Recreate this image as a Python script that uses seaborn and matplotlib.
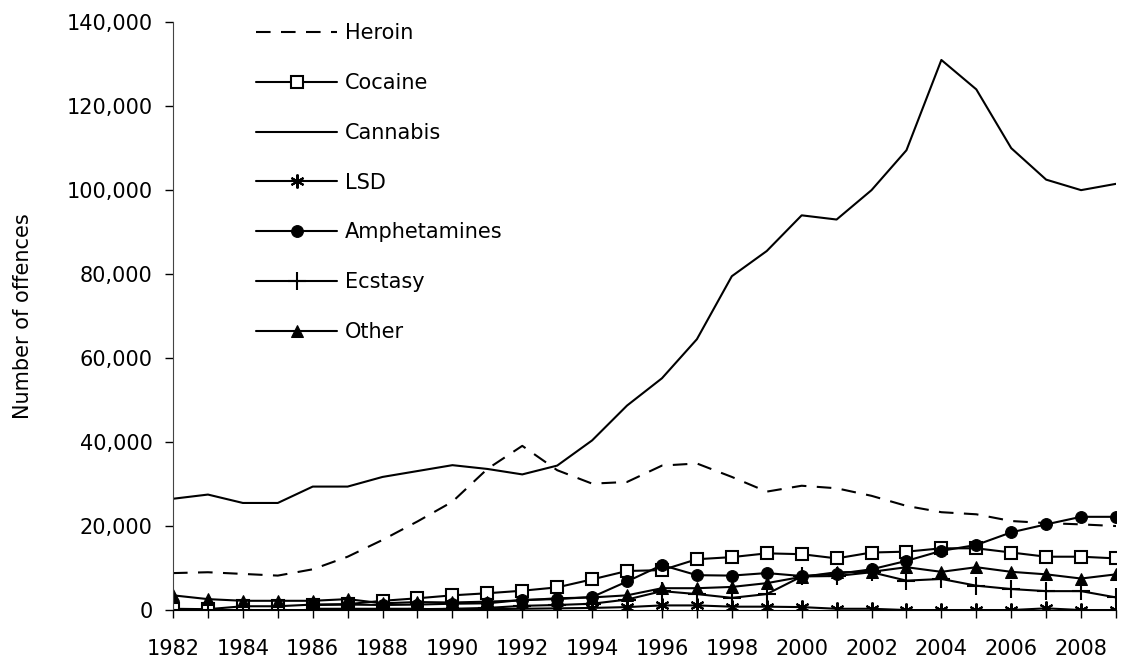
import numpy as np
import pandas as pd
import matplotlib
matplotlib.use("Agg")
import matplotlib.pyplot as plt
from matplotlib.ticker import FuncFormatter, MultipleLocator
import seaborn as sns

years = list(range(1982, 2010))

heroin = [8800, 9000, 8600, 8200, 9700, 12700, 16700, 21100, 25800, 33600,
          39100, 33300, 30100, 30500, 34400, 34900, 31700, 28200, 29600, 29000,
          27200, 24800, 23300, 22800, 21200, 20700, 20400, 20000]
cocaine = [300, 200, 900, 900, 1300, 1400, 2200, 2800, 3500, 4000,
           4600, 5400, 7300, 9300, 9500, 12100, 12600, 13500, 13300, 12300,
           13700, 13900, 14700, 14700, 13700, 12700, 12700, 12300]
cannabis = [26500, 27500, 25500, 25500, 29400, 29400, 31700, 33100, 34500, 33600,
            32300, 34400, 40400, 48700, 55200, 64500, 79500, 85500, 94000, 93000,
            100000, 109500, 131000, 124000, 110000, 102500, 100000, 101500]
lsd = [np.nan, np.nan, np.nan, np.nan, 300, 300, 300, 300, 0, 200,
       300, 400, 500, 700, 1100, 1100, 800, 800, 700, 300,
       300, 0, 0, 0, 0, 400, 0, 0]
amphetamines = [np.nan, np.nan, np.nan, np.nan, 1200, 1300, 1200, 1300, 1500, 1600,
                2400, 2600, 3100, 6800, 10700, 8300, 8200, 8800, 8100, 8600,
                9700, 11700, 14100, 15500, 18500, 20400, 22200, 22200]
ecstasy = [0, 0, 0, 0, 0, 0, 0, 200, 300, 500,
           1000, 1200, 1500, 2500, 4500, 3800, 2900, 3800, 8000, 8100,
           9000, 7000, 7400, 5800, 5000, 4500, 4500, 3000]
other = [3500, 2600, 2200, 2200, 2200, 2600, 1600, 1900, 1800, 2000,
         2300, 2800, 3000, 3500, 5200, 5200, 5500, 6400, 7900, 9000,
         9100, 10200, 9100, 10200, 9100, 8500, 7500, 8500]

series_names = ["Heroin", "Cocaine", "Cannabis", "LSD", "Amphetamines", "Ecstasy", "Other"]
series_vals = [heroin, cocaine, cannabis, lsd, amphetamines, ecstasy, other]

sns.set_style("ticks")
plt.rcParams["font.family"] = ["DejaVu Sans"]
plt.rcParams["text.color"] = "black"
plt.rcParams["axes.labelcolor"] = "black"

fig = plt.figure(figsize=(11.25, 6.62), dpi=100)
ax = fig.add_axes([0.1538, 0.0785, 0.8382, 0.888])

lw = 1.5
styles = {
    "Heroin": dict(dashes=(7, 5), marker=None),
    "Cocaine": dict(marker="s", markersize=8, markerfacecolor="white",
                    markeredgecolor="black", markeredgewidth=1.5),
    "Cannabis": dict(marker=None),
    "LSD": dict(marker=(6, 2, 0), markersize=10, markeredgecolor="black",
                markeredgewidth=1.5),
    "Amphetamines": dict(marker="o", markersize=8.5, markerfacecolor="black",
                         markeredgecolor="black"),
    "Ecstasy": dict(marker="+", markersize=13, markeredgecolor="black",
                    markeredgewidth=1.5),
    "Other": dict(marker="^", markersize=9, markerfacecolor="black",
                  markeredgecolor="black"),
}

for name, vals in zip(series_names, series_vals):
    df = pd.DataFrame({"year": years, "value": vals})
    sns.lineplot(data=df, x="year", y="value", ax=ax, color="black",
                 linewidth=lw, label=name, **styles[name])

ax.set_xlim(1982, 2009)
ax.set_ylim(0, 140000)
ax.yaxis.set_major_locator(MultipleLocator(20000))
ax.yaxis.set_major_formatter(FuncFormatter(lambda v, p: f"{int(v):,}"))
ax.xaxis.set_major_locator(MultipleLocator(2))
ax.xaxis.set_minor_locator(MultipleLocator(1))
ax.tick_params(axis="both", which="both", labelsize=15, colors="black",
               direction="out", length=5.8, width=1)
ax.tick_params(axis="y", which="both", pad=9)
ax.tick_params(axis="x", which="both", pad=15)

ax.spines["top"].set_visible(False)
ax.spines["right"].set_visible(False)
ax.spines["left"].set_color("#444444")
ax.spines["bottom"].set_color("black")
ax.set_xlabel("")
ax.set_ylabel("Number of offences", fontsize=15, color="black")
ax.yaxis.set_label_coords(-0.149, 0.5)

leg = ax.legend(loc="upper left", bbox_to_anchor=(0.068, 1.03), frameon=False,
                fontsize=15, handlelength=3.9, handletextpad=0.38,
                labelspacing=1.43)
for t in leg.get_texts():
    t.set_color("black")

fig.savefig("out.png", dpi=100)
